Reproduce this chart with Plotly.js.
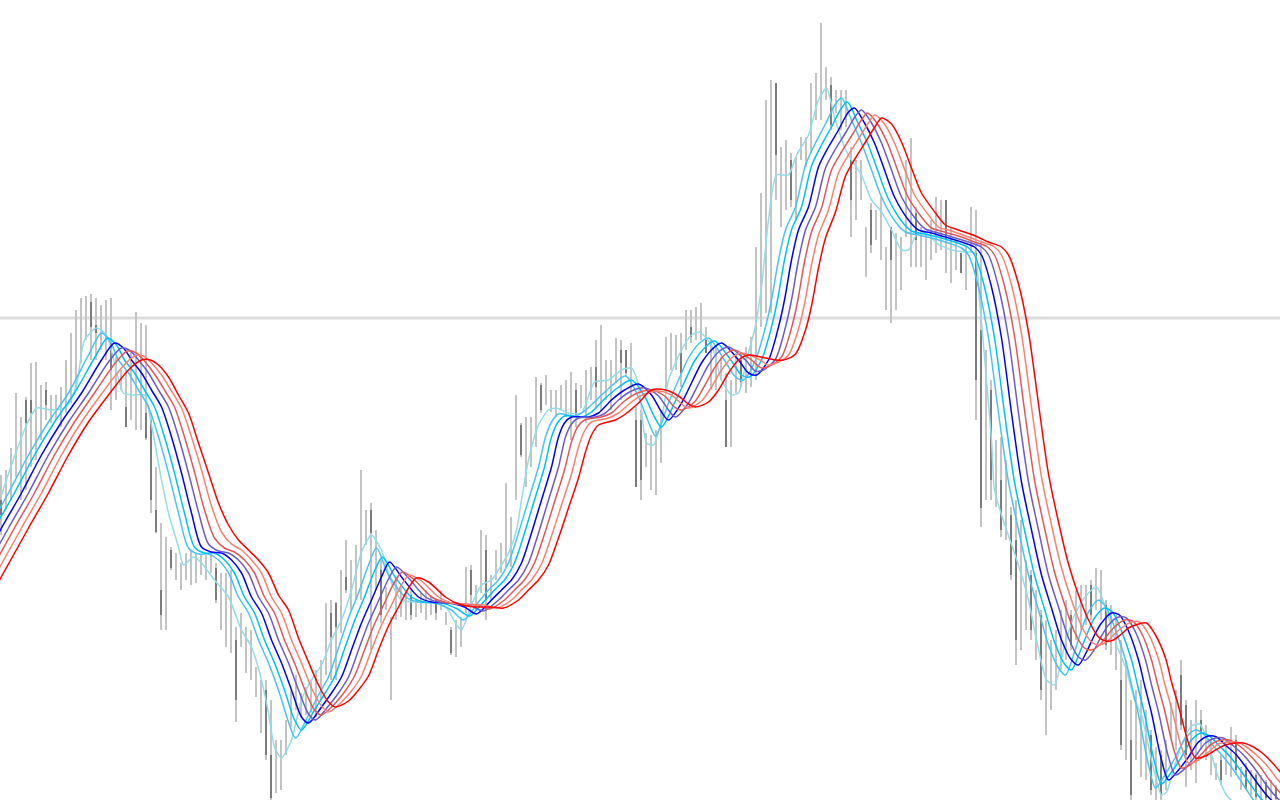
<!DOCTYPE html>
<html><head><meta charset="utf-8">
<script src="https://cdn.plot.ly/plotly-3.0.1.min.js"></script>
<style>
html,body{margin:0;padding:0;background:#fff;overflow:hidden}
#chart{width:1280px;height:800px}
#chart .bars path{shape-rendering:crispEdges}
</style>
</head><body><div id="chart"></div>
<script>
// ---- price bars (one per bar index), values in price points ----
const HIGH=[325,330,352,407,383,403,437,438,415,418,405,405,413,440,467,490,502,504,506,502,495,500,502,443,430,430,450,488,477,475,
387,333,277,263,253,247,237,247,250,247,245,245,247,237,227,227,230,173,187,173,170,133,120,120,100,60,60,80,110,125,
107,113,120,130,140,197,200,198,230,260,240,255,330,290,297,270,240,213,183,223,213,207,210,200,207,210,205,200,210,188,
173,180,183,233,235,215,270,265,225,250,257,317,283,405,377,383,383,423,417,425,410,410,415,420,428,417,415,430,433,460,
475,440,440,462,460,450,457,393,390,367,365,370,390,463,467,465,467,490,490,493,497,473,460,455,443,427,420,447,447,453,
463,553,607,700,720,717,653,660,647,643,663,663,717,727,777,733,723,710,710,710,653,640,640,573,597,590,603,553,573,567,
563,640,662,593,573,567,580,603,600,600,573,560,547,553,593,590,560,450,420,360,363,340,293,300,280,240,230,210,190,180,
160,170,190,200,190,210,215,215,220,232,230,200,195,185,160,140,100,110,120,90,70,53,50,60,97,110,140,100,80,100,
90,75,60,37,45,60,73,65,33,37,30,27,25,20,20,15];
const LOW=[265,290,300,323,300,310,333,340,360,380,377,380,373,387,397,410,437,460,440,440,450,440,390,400,410,373,380,370,370,360,
287,267,170,170,230,220,210,220,215,217,225,220,227,197,170,153,147,78,153,127,120,103,67,40,0,7,10,45,73,90,
83,85,88,83,100,125,120,120,167,207,190,200,200,255,150,210,177,190,100,180,183,180,180,183,187,180,185,180,190,175,
145,143,153,187,195,190,207,180,200,220,227,233,233,300,343,313,333,353,387,395,388,383,390,383,360,373,392,377,400,393,
390,400,390,417,400,423,403,313,300,333,310,305,337,407,430,430,413,450,457,460,460,447,410,410,420,353,353,407,413,407,
413,420,473,487,487,600,573,590,593,580,640,633,647,680,680,700,670,687,670,673,563,580,600,523,547,560,540,490,477,490,
510,563,533,533,533,520,540,547,550,527,517,530,527,510,547,380,273,300,300,293,263,260,220,135,150,170,160,140,100,65,
90,110,130,140,150,160,170,175,180,190,180,150,145,130,50,40,0,40,23,20,5,0,0,10,63,50,70,13,30,17,
50,40,25,20,15,25,23,25,10,10,5,0,0,0,0,0];
const OPEN=[300,295,318,340,318,400,400,360,372,410,385,388,380,395,405,420,445,470,498,475,460,450,457,405,412,393,385,380,400,387,
380,290,210,200,250,225,215,225,220,222,228,225,230,232,175,160,155,160,158,135,125,110,75,110,45,15,20,50,80,95,
85,90,95,90,105,130,187,197,175,223,195,210,215,262,290,215,230,195,120,185,188,185,205,186,190,185,188,200,192,177,
170,148,158,190,230,200,210,250,205,225,232,240,240,310,375,320,340,360,415,400,392,388,395,390,370,410,395,385,405,433,
400,405,400,420,450,450,410,380,380,340,320,315,345,410,435,435,447,455,473,465,465,460,415,415,425,400,360,410,440,410,
418,425,480,495,500,717,580,600,640,585,642,638,650,685,690,705,715,690,675,678,640,585,605,528,590,565,545,495,573,495,
515,568,540,587,538,525,545,552,555,600,522,535,547,515,552,547,470,310,410,300,320,265,285,260,155,175,225,145,185,70,
95,115,135,145,185,165,175,180,215,195,185,195,150,135,120,45,60,45,30,25,65,5,45,15,68,55,125,95,35,22,
80,45,30,22,40,30,28,60,15,30,8,25,3,18,2,12];
const CLOSE=[285,322,345,395,372,377,387,420,405,395,400,398,405,432,458,480,495,498,473,467,488,492,430,438,428,373,440,470,450,362,
300,268,185,235,232,240,232,242,245,240,240,238,242,200,220,215,220,100,180,165,165,128,112,45,2,50,52,75,105,120,
102,108,115,125,135,190,163,173,225,210,235,250,320,285,267,262,185,210,178,215,208,200,185,196,202,205,200,187,205,186,
147,175,180,228,205,210,262,200,220,245,250,305,278,395,345,375,378,415,390,420,405,405,410,415,420,385,410,425,428,413,
465,435,432,455,437,427,450,313,320,360,355,360,385,455,462,460,427,485,463,488,490,447,455,450,440,353,415,440,418,448,
458,545,600,690,710,645,645,650,600,638,660,660,710,720,760,728,675,705,705,705,600,635,635,568,555,585,598,548,540,560,
558,635,655,560,568,562,575,598,595,560,568,555,527,548,588,420,292,400,320,350,270,330,225,160,270,235,170,205,110,170,
155,165,185,195,155,205,210,210,185,228,225,155,190,180,55,135,5,105,115,85,10,50,5,55,92,105,75,45,75,95,
67,70,55,35,20,55,68,30,30,12,26,3,22,2,18,1];

// ---- horizontal level line (price) ----
const LEVEL=482;

// ---- moving averages: sample times (bar index) and values ----
const MA_T=[-6,0,4,8,12,16,20,22.6,24.4,26,28,30,32,34,36,38,40,42,44,46,48,50,52,54,56,58,60,61.4,64,66,
68,70,72,74,76,77.6,80,83.4,86,89.4,92.6,95,98,100,102,104,106,108,110,111.4,112.6,114,117.4,119.4,122,124.6,127.4,130,132,133.4,
136,138,140,142,144,147.4,149.4,151,153.4,155.4,156.6,158,159.4,161.4,163.4,165.4,167.4,169.4,170.6,172.6,
174.6,176.6,178.6,181.4,183.4,186,189.4,192,194.6,196,198,200,202,204,206,208,210,212,214,215.4,
217,218.6,220,222,223.6,225.4,227.4,228.6,230,232,233.4,235.4,237.4,239.4,241.4,243,245,247,249,251,253,257];
// lag of each average in bars, relative to the sample times above
const MA_LAG={sky:-2.6,deep:-1.4,blue:0,slate:1.4,indian:2.6,salmon:4,red:5.4};

const MA_SKY=[218,272,307,345,378,407,445,467,458,440,427,410,393,363,327,287,252,246,246,240,227,203,187,160,137,110,78,62,85,105,
123,152,182,207,235,252,225,203,198,197,190,180,198,210,220,237,267,300,333,363,378,386,384,390,402,414,424,403,378,364,
397,420,442,456,462,438,423,420,440,473,500,540,570,593,635,657,676,696,702,680,657,630,603,578,568,565,561,557,552,545,
513,462,387,318,270,225,190,155,132,125,145,170,188,200,192,170,140,115,85,35,12,26,43,62,70,66,54,43,30,15,0,-20];
const MA_DEEP=[218,272,307,345,378,407,442,462,455,440,427,410,393,363,327,287,253,247,247,240,227,203,187,160,137,110,80,70,90,106,
123,151,179,203,229,243,224,203,198,197,191,184,199,210,220,237,267,300,333,363,377,384,383,388,401,412,420,404,383,373,
397,418,439,452,459,439,425,423,440,473,500,540,570,593,634,655,673,692,698,678,657,630,603,579,569,566,562,558,553,545,
513,462,387,318,270,225,191,158,136,130,147,167,182,192,188,169,140,115,86,38,16,28,43,60,67,64,54,44,31,17,3,-17];
const MA_BLUE=[218,272,307,345,378,407,440,457,452,440,427,410,393,363,327,287,253,248,247,240,227,203,187,160,137,110,83,77,93,107,
123,150,177,200,223,238,223,203,198,197,193,186,200,210,220,237,267,300,333,363,377,383,383,387,400,410,416,405,388,380,
397,417,437,450,457,440,427,425,440,473,500,540,570,593,633,653,670,688,692,677,657,630,603,580,570,567,562,558,553,545,
513,462,387,318,270,225,192,160,140,135,148,165,177,187,185,169,140,115,87,40,20,30,43,58,64,63,54,45,32,18,5,-15];
const MA_SLATE=[218,272,307,345,378,407,438,452,449,440,427,410,393,363,327,288,256,249,247,240,227,203,187,160,137,110,86,80,94,107,
123,150,177,199,221,233,222,203,198,197,194,189,200,210,220,237,267,300,333,363,376,382,383,387,400,409,412,404,390,383,
397,416,435,448,453,440,429,430,441,473,500,540,570,593,632,651,667,684,690,677,657,630,603,581,571,567,562,558,553,545,
513,462,387,318,270,225,193,162,143,140,149,164,175,183,182,168,140,115,88,43,25,32,44,57,62,62,54,45,33,19,6,-14];
const MA_INDIAN=[218,272,307,345,378,407,436,449,447,439,426,410,393,363,328,290,262,252,248,240,227,203,187,160,137,111,90,85,96,108,
124,150,176,197,218,228,220,203,198,196,195,191,200,210,220,237,266,298,330,358,373,380,383,387,399,407,410,404,393,390,
398,414,432,445,450,440,432,434,443,472,498,538,568,592,630,648,664,680,687,676,657,630,604,583,572,568,563,558,553,545,
514,464,390,320,272,228,196,168,152,150,155,165,173,180,179,167,140,116,90,48,32,36,46,56,60,60,54,45,34,20,8,-12];
const MA_SALMON=[218,272,307,345,378,406,432,444,444,437,425,409,392,363,330,294,268,256,250,240,227,203,187,160,137,112,94,88,98,109,
124,150,175,195,215,225,219,203,197,195,195,192,200,210,220,236,264,295,326,353,369,378,382,387,398,406,409,405,396,392,
399,413,430,442,447,441,435,437,445,471,496,535,565,590,627,645,661,677,685,676,657,631,605,585,573,569,563,558,553,545,
515,466,393,323,275,232,200,174,158,155,158,166,172,178,178,166,141,117,92,53,37,40,48,56,58,58,53,45,35,22,10,-10];
const MA_RED=[218,272,307,345,378,405,430,440,440,435,423,405,387,357,327,297,275,260,250,240,227,205,190,162,138,115,98,93,99,110,
124,150,174,193,212,222,218,203,196,193,193,192,200,210,220,235,262,292,322,348,365,375,380,386,397,410,410,404,396,393,
398,410,427,440,445,442,440,440,446,470,494,532,562,588,624,642,658,674,682,676,658,632,607,587,575,570,564,558,553,545,
516,468,396,326,278,236,205,180,163,159,160,166,172,176,177,165,142,118,94,57,42,44,50,55,57,57,53,46,36,24,12,-8];

// fastest average, read separately (it follows price closely)
const PALE_T=[0,2,5,7,10,13,15,16.6,19,21,22.6,24.4,26.6,28.6,30,32,33.4,35.4,36.4,38.4,
40,42.6,45.4,48,50,52,53.4,54.6,56,58,60,62,64,66,68,70,72,74,76,78,
80,83,86,89,91,92,94,96,98,100,101.4,103,104,105.4,107.4,109.4,111,113.4,116,118.6,
121.4,124,126,127.4,129,130.4,132,133.4,136,138,139.6,142,144,146,147.4,149,150.6,152,153.4,155,
157.4,159,161.4,163.4,165,166.6,168.6,170,172,174,176,178,180,181.4,183,185,187,190,193,194.6,
195.6,197,198,198.6,200,201,202.4,204,205.4,207,209,210.6,212.6,214.6,217,219,221,223,225,226.6,
228,230,232,233,234.4,236,238,239.6,241.2,243,245,248];
const MA_PALE=[305,335,375,392,390,393,415,460,472,465,437,407,405,405,375,320,287,253,235,243,
237,220,203,170,153,120,87,53,42,60,100,120,135,160,180,210,248,265,250,217,
200,198,198,192,175,170,195,215,220,235,247,270,300,340,375,390,392,387,387,418,
420,430,432,415,357,355,380,420,450,465,468,455,420,405,407,440,470,513,580,625,
625,645,665,700,712,683,653,640,625,600,588,570,550,550,565,567,557,550,548,547,
500,420,360,310,285,270,250,225,200,160,120,115,154,185,205,213,190,155,130,100,
85,40,5,8,30,55,74,76,60,28,5,-10];

// ---- build traces ----
const IDX=HIGH.map((_,i)=>i);
const traces=[];
traces.push({type:'bar',x:IDX,base:LOW,y:HIGH.map((h,i)=>h-LOW[i]),width:0.22,
  marker:{color:'#c4c4c4',line:{width:0}},hoverinfo:'skip'});
traces.push({type:'bar',x:IDX,base:CLOSE.map((c,i)=>c<OPEN[i]?c:null),
  y:OPEN.map((o,i)=>o>CLOSE[i]?o-CLOSE[i]:null),width:0.22,
  marker:{color:'#7c7c7c',line:{width:0}},hoverinfo:'skip'});

const LW=1.5;
traces.push({type:'scatter',mode:'lines',x:PALE_T,y:MA_PALE,
  line:{color:'#94dde8',width:LW,shape:'spline',smoothing:0.6},hoverinfo:'skip'});
const series=[
  ['sky',MA_SKY,'#48c4f4'],
  ['deep',MA_DEEP,'#00bfff'],
  ['blue',MA_BLUE,'#0000ff'],
  ['slate',MA_SLATE,'#6a5acd'],
  ['indian',MA_INDIAN,'#e25858'],
  ['salmon',MA_SALMON,'#fa8072'],
  ['red',MA_RED,'#ff0000']
];
series.forEach(([k,vals,col])=>{
  traces.push({type:'scatter',mode:'lines',x:MA_T.map(t=>t+MA_LAG[k]),y:vals,
    line:{color:col,width:LW,shape:'spline',smoothing:0.8},hoverinfo:'skip'});
});

const layout={
  width:1280,height:800,margin:{l:0,r:0,t:0,b:0,pad:0},
  paper_bgcolor:'#ffffff',plot_bgcolor:'#ffffff',
  showlegend:false,barmode:'overlay',bargap:0,hovermode:false,
  xaxis:{range:[-0.3,255.7],visible:false,fixedrange:true},
  yaxis:{range:[0,800],visible:false,fixedrange:true},
  shapes:[{type:'line',xref:'paper',x0:0,x1:1,yref:'y',y0:LEVEL,y1:LEVEL,
    line:{color:'#dcdcdc',width:3},layer:'below'}]
};
Plotly.newPlot('chart',traces,layout,{displayModeBar:false});
</script>
</body></html>
